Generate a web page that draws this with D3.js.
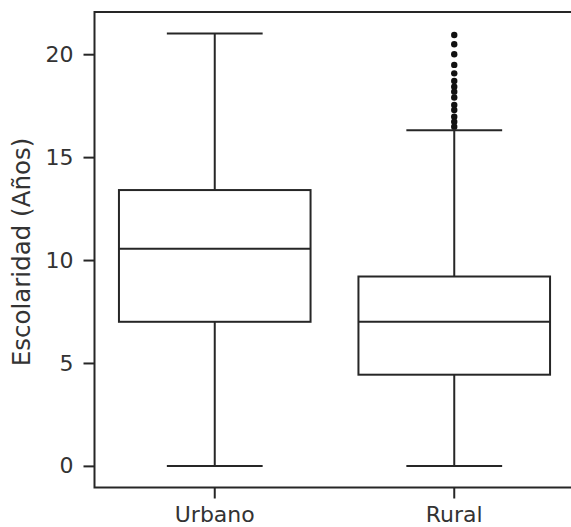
<!DOCTYPE html>
<html>
<head>
<meta charset="utf-8">
<script src="https://cdn.jsdelivr.net/npm/d3@7"></script>
<style>
  body { margin: 0; background: #fff; }
  svg { display: block; }
  text { font-family: "DejaVu Sans"; }
</style>
</head>
<body>
<svg id="chart"></svg>
<script>
// datos
const categorias = ["Urbano", "Rural"];
const bigoteMin = [0, 0];
const q1 = [7.0, 4.43];
const mediana = [10.55, 7.0];
const q3 = [13.4, 9.2];
const bigoteMax = [21, 16.3];
const atipicosRural = [20.93, 20.48, 20.0, 19.48, 19.07, 18.7, 18.42, 18.18, 17.9, 17.53, 17.29, 16.96, 16.72, 16.48];
const yTicks = [0, 5, 10, 15, 20];

const width = 571, height = 527;
const margin = { left: 94.5, top: 12, right: -4, bottom: 39.5 };
const ink = "#262626";
const fuente = "DejaVu Sans";

let svg = d3.select("#chart").attr("width", width).attr("height", height);

let x = d3.scaleBand()
    .domain(categorias)
    .range([95, 574])
    .paddingInner(0.2)
    .paddingOuter(0.1);

let y = d3.scaleLinear()
    .domain([-1.05, 22.05])
    .range([height - margin.bottom, margin.top]);

let cajas = categorias.map((c, i) => ({
    cat: c, lo: bigoteMin[i], q1: q1[i], med: mediana[i], q3: q3[i], hi: bigoteMax[i]
}));

let g = svg.append("g");

// bigotes
cajas.forEach(d => {
    let cx = x(d.cat) + x.bandwidth() / 2;
    let capW = x.bandwidth() / 4;
    g.append("line").attr("x1", cx).attr("x2", cx).attr("y1", y(d.q3)).attr("y2", y(d.hi))
        .attr("stroke", ink).attr("stroke-width", 2);
    g.append("line").attr("x1", cx).attr("x2", cx).attr("y1", y(d.q1)).attr("y2", y(d.lo))
        .attr("stroke", ink).attr("stroke-width", 2);
    g.append("line").attr("x1", cx - capW).attr("x2", cx + capW).attr("y1", y(d.hi)).attr("y2", y(d.hi))
        .attr("stroke", ink).attr("stroke-width", 2);
    g.append("line").attr("x1", cx - capW).attr("x2", cx + capW).attr("y1", y(d.lo)).attr("y2", y(d.lo))
        .attr("stroke", ink).attr("stroke-width", 2);
});

// cajas
g.selectAll("rect.caja")
    .data(cajas)
    .join("rect")
    .attr("class", "caja")
    .attr("x", d => x(d.cat))
    .attr("width", x.bandwidth())
    .attr("y", d => y(d.q3))
    .attr("height", d => y(d.q1) - y(d.q3))
    .attr("fill", "#fff")
    .attr("stroke", ink)
    .attr("stroke-width", 2);

// medianas
g.selectAll("line.mediana")
    .data(cajas)
    .join("line")
    .attr("class", "mediana")
    .attr("x1", d => x(d.cat))
    .attr("x2", d => x(d.cat) + x.bandwidth())
    .attr("y1", d => y(d.med))
    .attr("y2", d => y(d.med))
    .attr("stroke", ink)
    .attr("stroke-width", 2);

// valores atipicos (Rural)
g.selectAll("circle")
    .data(atipicosRural)
    .join("circle")
    .attr("cx", x("Rural") + x.bandwidth() / 2)
    .attr("cy", d => y(d))
    .attr("r", 3.2)
    .attr("fill", "#111");

// ejes
let yAxis = svg.append("g")
    .attr("transform", `translate(${margin.left},0)`)
    .call(d3.axisLeft(y).tickValues(yTicks).tickSize(11).tickPadding(10).tickFormat(d3.format("d")));
let xAxis = svg.append("g")
    .attr("transform", `translate(0,${height - margin.bottom})`)
    .call(d3.axisBottom(x).tickSize(11).tickPadding(8));

[yAxis, xAxis].forEach(a => {
    a.attr("font-family", fuente);
    a.select(".domain").remove();
    a.selectAll(".tick line").attr("stroke", ink).attr("stroke-width", 2);
    a.selectAll(".tick text").attr("fill", "#333").attr("font-family", fuente).style("font-size", "22px");
});

// marco (spines)
svg.append("rect")
    .attr("x", margin.left)
    .attr("y", margin.top)
    .attr("width", width - margin.left - margin.right)
    .attr("height", height - margin.bottom - margin.top)
    .attr("fill", "none")
    .attr("stroke", ink)
    .attr("stroke-width", 2);

// etiqueta eje y
svg.append("text")
    .attr("transform", `translate(30,252) rotate(-90)`)
    .attr("text-anchor", "middle")
    .attr("font-family", fuente)
    .attr("fill", "#333")
    .style("font-size", "24.5px")
    .text("Escolaridad (Años)");
</script>
</body>
</html>
